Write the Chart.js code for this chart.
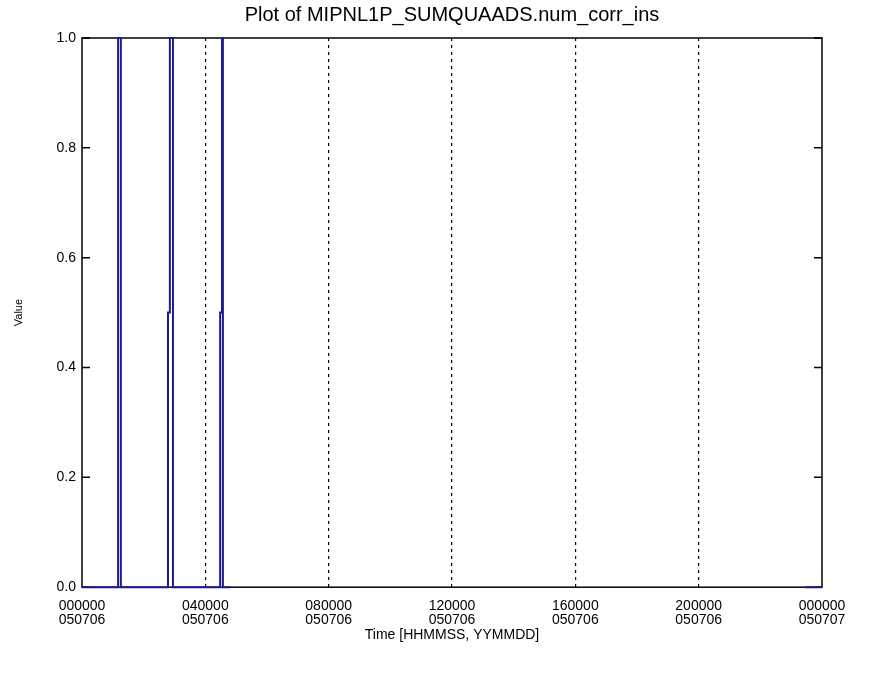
<!DOCTYPE html>
<html lang="en">
<head>
    <meta charset="UTF-8">
    <title>Plot of MIPNL1P_SUMQUAADS.num_corr_ins</title>
    <style>
        body {
            margin: 0;
            background-color: #fff;
        }
        #chart {
            display: block;
        }
    </style>
</head>
<body>

<canvas id="chart" width="873" height="675"></canvas>

<script src="https://cdn.jsdelivr.net/npm/chart.js"></script>
<script>
    // Time in hours since 000000 050706, value of num_corr_ins
    const timeHours = [0, 1.17, 1.17, 1.26, 1.26, 2.79, 2.79, 2.85, 2.85, 2.95, 2.95, 4.48, 4.48, 4.54, 4.54, 4.57, 4.57, 4.80, 4.81, 23.45, 24];
    const values    = [0, 0,    1,    1,    0,    0,    0.5,  0.5,  1,    1,    0,    0,    0.5,  0.5,  1,    1,    0,    0,    null, 0,     0];

    // Tick positions (hours) and two-line labels
    const tickHours = [0, 4, 8, 12, 16, 20, 24];
    const tickTimes = ['000000', '040000', '080000', '120000', '160000', '200000', '000000'];
    const tickDates = ['050706', '050706', '050706', '050706', '050706', '050706', '050707'];

    const points = timeHours.map((t, i) => ({ x: t, y: values[i] }));

    // box round the plot area and small inward ticks on the y edges
    const frame = {
        id: 'frame',
        beforeDatasetsDraw(chart) {
            const { ctx, chartArea: a, scales } = chart;
            ctx.save();
            ctx.strokeStyle = '#000';
            ctx.lineWidth = 1.5;
            ctx.setLineDash([]);
            ctx.strokeRect(a.left, a.top, a.right - a.left, a.bottom - a.top);
            ctx.beginPath();
            scales.y.ticks.forEach(t => {
                const y = scales.y.getPixelForValue(t.value);
                ctx.moveTo(a.right, y);
                ctx.lineTo(a.right - 8, y);
                ctx.moveTo(a.left, y);
                ctx.lineTo(a.left + 8, y);
            });
            ctx.stroke();
            ctx.restore();
        }
    };

    new Chart(document.getElementById('chart'), {
        type: 'line',
        data: {
            datasets: [{
                data: points,
                borderColor: '#1c1c92',
                borderWidth: 2,
                pointRadius: 0,
                tension: 0,
                spanGaps: false,
                fill: false,
                clip: 4
            }]
        },
        options: {
            responsive: false,
            animation: false,
            layout: { padding: { left: 0, right: 51, top: 0, bottom: 31 } },
            plugins: {
                legend: { display: false },
                tooltip: { enabled: false },
                title: {
                    display: true,
                    fullSize: false,
                    text: 'Plot of MIPNL1P_SUMQUAADS.num_corr_ins',
                    color: '#000',
                    font: { family: 'Liberation Sans', size: 20, weight: 'normal' },
                    padding: { top: 3, bottom: 11 }
                }
            },
            scales: {
                x: {
                    type: 'linear',
                    min: 0,
                    max: 24,
                    afterBuildTicks: s => { s.ticks = tickHours.map(v => ({ value: v })); },
                    grid: {
                        color: ctx => (ctx.tick && (ctx.tick.value === 0 || ctx.tick.value === 24)) ? 'rgba(0,0,0,0)' : '#000',
                        lineWidth: 1.2,
                        drawTicks: false,
                        tickLength: 0,
                        borderDash: [3, 4]
                    },
                    border: { display: false, dash: [3, 4] },
                    ticks: {
                        color: '#000',
                        maxRotation: 0,
                        padding: 12,
                        font: { family: 'Liberation Sans', size: 14, lineHeight: 1.0 },
                        callback: v => {
                            const i = tickHours.indexOf(v);
                            return i < 0 ? '' : [tickTimes[i], tickDates[i]];
                        }
                    },
                    title: {
                        display: true,
                        text: 'Time [HHMMSS, YYMMDD]',
                        color: '#000',
                        font: { family: 'Liberation Sans', size: 14 },
                        padding: { top: -12, bottom: 0 }
                    }
                },
                y: {
                    min: 0,
                    max: 1,
                    afterFit: s => { s.width = 82; },
                    grid: { display: false, drawTicks: false, tickLength: 0 },
                    border: { display: false },
                    ticks: {
                        stepSize: 0.2,
                        color: '#000',
                        padding: 6,
                        font: { family: 'Liberation Sans', size: 14 },
                        callback: v => v.toFixed(1)
                    },
                    title: {
                        display: true,
                        text: 'Value',
                        color: '#000',
                        font: { family: 'Liberation Sans', size: 11 },
                        padding: { top: 12, bottom: 0 }
                    }
                }
            }
        },
        plugins: [frame]
    });
</script>

</body>
</html>
